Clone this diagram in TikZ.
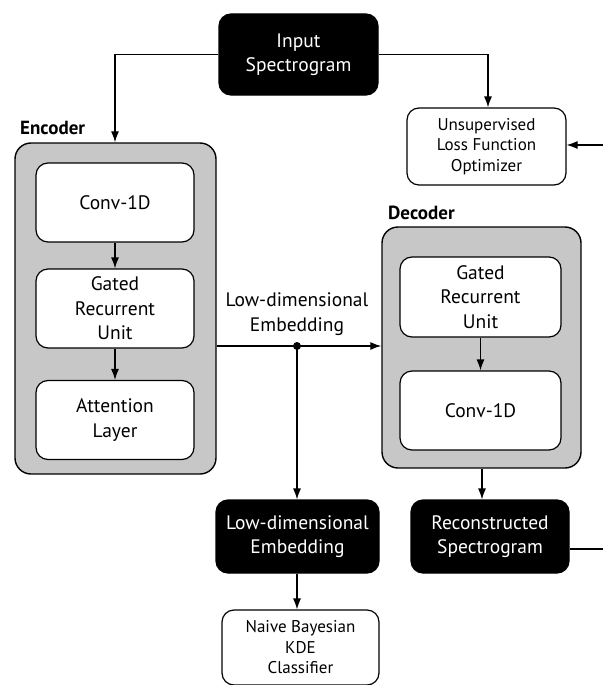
\documentclass[tikz,border=0pt]{standalone}
\usepackage{fontspec}
\setmainfont{PT Sans}
\usetikzlibrary{arrows.meta}
\begin{document}
\begin{tikzpicture}[x=1pt,y=-1pt,
  box/.style={draw, line width=1.2pt, rounded corners=12pt, align=center, inner sep=0pt,
    font=\fontsize{19.5}{24.5}\selectfont},
  blk/.style={box, fill=black, text=white},
  wht/.style={box, fill=white},
  small/.style={font=\fontsize{17}{20.5}\selectfont},
  grp/.style={draw, line width=1.4pt, fill=black!22, rounded corners=16pt, inner sep=0pt},
  arr/.style={-{Latex[length=11pt,width=8pt]}, line width=1.2pt},
  ln/.style={line width=1.2pt},
  lab/.style={font=\bfseries\fontsize{19}{22}\selectfont, anchor=west, inner sep=0pt}]
\useasboundingbox (0,0) rectangle (603,685);

% group boxes
\node[grp, minimum width=201, minimum height=331] (enc) at (115.5,308.5) {};
\node[grp, minimum width=199, minimum height=241] (dec) at (481.5,347.5) {};
\node[lab] (enclab) at (20,128) {Encoder};
\node[lab] (declab) at (388,213) {Decoder};

% top
\node[blk, minimum width=159, minimum height=81] (inp) at (298.5,54.5) {Input\\Spectrogram};
\node[wht, small, minimum width=159, minimum height=77] (loss) at (486.5,146.5) {Unsupervised\\Loss Function\\Optimizer};

% encoder inner
\node[wht, minimum width=158, minimum height=79] (econv) at (115,202.5) {Conv-1D};
\node[wht, minimum width=158, minimum height=79] (egru) at (115,308.5) {Gated\\Recurrent\\Unit};
\node[wht, minimum width=158, minimum height=79] (eatt) at (115,420) {Attention\\Layer};

% decoder inner
\node[wht, minimum width=161, minimum height=80] (dgru) at (480.5,297) {Gated\\Recurrent\\Unit};
\node[wht, minimum width=161, minimum height=79] (dconv) at (480.5,410.5) {Conv-1D};

% bottom
\node[blk, minimum width=163, minimum height=73] (emb) at (297.5,536.5) {Low-dimensional\\Embedding};
\node[blk, minimum width=158, minimum height=73] (rec) at (490,536.5) {Reconstructed\\Spectrogram};
\node[wht, small, minimum width=157, minimum height=75] (nb) at (300.5,647.5) {Naive Bayesian\\KDE\\Classifier};

% embedding label
\node[align=center, inner sep=0pt, font=\fontsize{19.5}{24.5}\selectfont] (emblab) at (297,314) {Low-dimensional\\Embedding};

% connectors
\coordinate (dot) at (297,346);
\coordinate (lossin) at (603,145);
\coordinate (recout) at (603,549);
\draw[arr] (inp.west) -| (enc.north -| econv);
\draw[arr] (inp.east) -| (loss.north -| 488,0);
\draw[arr] (lossin) -- (loss.east |- lossin);
\draw[arr] (econv) -- (egru);
\draw[arr] (egru) -- (eatt);
\draw[arr] (dgru) -- (dconv);
\draw[arr] (enc.east |- dot) -- (dec.west |- dot);
\fill (dot) circle (4pt);
\draw[arr] (dot) -- (emb.north -| dot);
\draw[arr] (emb.south -| dot) -- (nb.north -| dot);
\draw[arr] (dec.south -| 482,0) -- (rec.north -| 482,0);
\draw[ln] (rec.east |- recout) -- (recout);
\end{tikzpicture}
\end{document}
